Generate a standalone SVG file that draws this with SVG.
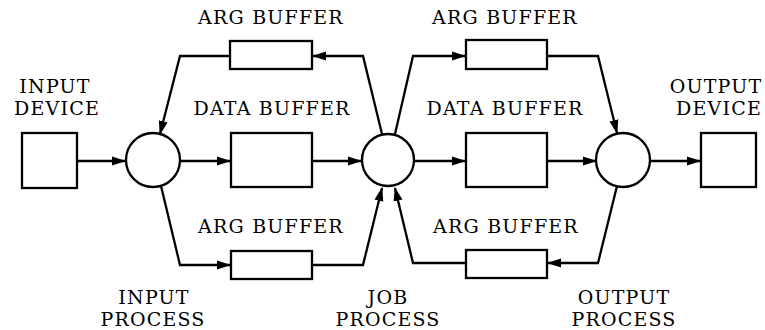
<svg xmlns="http://www.w3.org/2000/svg" width="765" height="330" viewBox="0 0 765 330">
<defs>
<marker id="ah" markerWidth="14" markerHeight="10" refX="13" refY="5" orient="auto" markerUnits="userSpaceOnUse">
<path d="M0,0.5 L14,5 L0,9.5 Z" fill="#000"/>
</marker>
<style>
.n{fill:#fff;stroke:#000;stroke-width:2.3}
.c{fill:none;stroke:#000;stroke-width:2.3;marker-end:url(#ah)}
text{font-family:"DejaVu Serif","Liberation Serif",serif;font-size:19px;letter-spacing:1.2px;fill:#000;text-anchor:middle}
</style>
</defs>
<rect width="765" height="330" fill="#fff"/>
<g id="connectors">
<path class="c" d="M77,161 L125,161"/>
<path class="c" d="M180,161 L230,161"/>
<path class="c" d="M312,161 L361,161"/>
<path class="c" d="M414,161 L465,161"/>
<path class="c" d="M547,161 L596,161"/>
<path class="c" d="M650,161 L700,161"/>
<path class="c" d="M382,134 L363,56 L313,56"/>
<path class="c" d="M230,56 L180,56 L160,134"/>
<path class="c" d="M395,134 L413,56 L465,56"/>
<path class="c" d="M547,56 L598,56 L617,133"/>
<path class="c" d="M161,186 L180,265 L230,265"/>
<path class="c" d="M312,265 L363,265 L382,188"/>
<path class="c" d="M617,186 L598,263 L548,263"/>
<path class="c" d="M466,263 L413,263 L395,188"/>
</g>
<g id="input-device"><rect class="n" x="22" y="133" width="55" height="55"/><text x="55" y="93">INPUT</text><text x="57" y="115">DEVICE</text></g>
<g id="input-process"><circle class="n" cx="153" cy="160" r="27"/><text x="154" y="304">INPUT</text><text x="153" y="326">PROCESS</text></g>
<g id="data-buffer-1"><rect class="n" x="231" y="133" width="81" height="54"/><text x="272" y="115">DATA BUFFER</text></g>
<g id="arg-buffer-top-1"><rect class="n" x="230" y="41" width="82" height="28"/><text x="271" y="24">ARG BUFFER</text></g>
<g id="arg-buffer-bottom-1"><rect class="n" x="231" y="251" width="81" height="28"/><text x="271" y="233">ARG BUFFER</text></g>
<g id="job-process"><circle class="n" cx="388" cy="160" r="26"/><text x="388" y="304">JOB</text><text x="388" y="326">PROCESS</text></g>
<g id="data-buffer-2"><rect class="n" x="466" y="133" width="81" height="54"/><text x="505" y="115">DATA BUFFER</text></g>
<g id="arg-buffer-top-2"><rect class="n" x="466" y="40" width="81" height="29"/><text x="505" y="24">ARG BUFFER</text></g>
<g id="arg-buffer-bottom-2"><rect class="n" x="466" y="250" width="81" height="28"/><text x="506" y="233">ARG BUFFER</text></g>
<g id="output-process"><circle class="n" cx="623" cy="160" r="27"/><text x="624" y="304">OUTPUT</text><text x="624" y="326">PROCESS</text></g>
<g id="output-device"><rect class="n" x="701" y="133" width="55" height="54"/><text x="716" y="93">OUTPUT</text><text x="719" y="115">DEVICE</text></g>
</svg>
